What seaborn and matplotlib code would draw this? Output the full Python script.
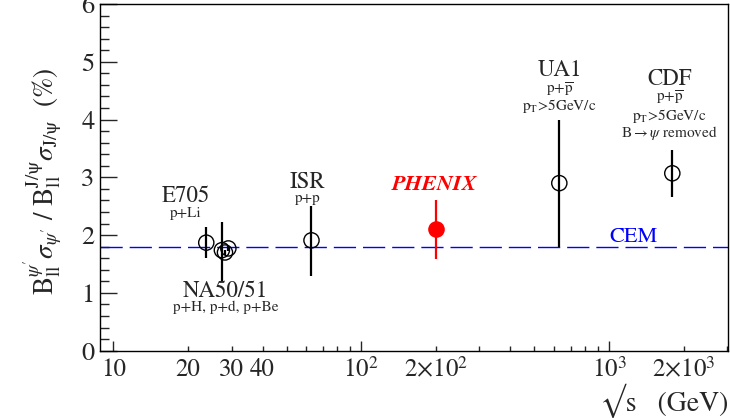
import numpy as np
import pandas as pd
import matplotlib
matplotlib.use("Agg")
import matplotlib.pyplot as plt
import matplotlib.ticker as mticker
import seaborn as sns

# ---------------- data ----------------
experiments = ["E705", "NA50", "NA51a", "NA51b", "ISR", "UA1", "CDF"]
sqrt_s = [23.7, 27.4, 28.2, 29.1, 63.0, 630.0, 1800.0]
ratio = [1.87, 1.74, 1.70, 1.77, 1.91, 2.90, 3.07]
err_lo = [0.26, 0.53, 0.04, 0.04, 0.61, 1.11, 0.41]
err_hi = [0.27, 0.49, 0.04, 0.04, 0.59, 1.10, 0.41]

phenix_sqrt_s = [200.0]
phenix_ratio = [2.10]
phenix_err_lo = [0.51]
phenix_err_hi = [0.50]

cem_value = 1.8

x_tick_values = [10, 20, 30, 40, 100, 200, 1000, 2000]
x_tick_labels = ["10", "20", "30", "40", r"10$^{2}$", r"2$\times$10$^{2}$",
                 r"10$^{3}$", r"2$\times$10$^{3}$"]
y_ticks = [0, 1, 2, 3, 4, 5, 6]

# ---------------- style ----------------
sns.set_style("ticks")
plt.rcParams["font.family"] = ["STIXGeneral", "DejaVu Serif"]
plt.rcParams["mathtext.fontset"] = "stix"

fig = plt.figure(figsize=(7.30, 4.18), dpi=100)
ax = fig.add_axes([100 / 730, 1 - 350.7 / 418, 628 / 730, 346.7 / 418])

df = pd.DataFrame({"exp": experiments, "sqrt_s": sqrt_s, "ratio": ratio})
dfp = pd.DataFrame({"sqrt_s": phenix_sqrt_s, "ratio": phenix_ratio})

# CEM line
ax.axhline(cem_value, color="#0000ff", lw=1.0, dashes=(16, 5), zorder=1)

# error bars
ax.errorbar(sqrt_s, ratio, yerr=[err_lo, err_hi], fmt="none", ecolor="black",
            elinewidth=1.6, capsize=0, zorder=2)
ax.errorbar(phenix_sqrt_s, phenix_ratio, yerr=[phenix_err_lo, phenix_err_hi],
            fmt="none", ecolor="#ff0000", elinewidth=1.6, capsize=0, zorder=2)

# markers
sns.scatterplot(data=df, x="sqrt_s", y="ratio", ax=ax, s=120, marker="o",
                facecolor="none", edgecolor="black", linewidth=1.0, zorder=3,
                legend=False)
sns.scatterplot(data=dfp, x="sqrt_s", y="ratio", ax=ax, s=120, marker="o",
                color="#ff0000", edgecolor="#ff0000", linewidth=1.0, zorder=3,
                legend=False)

ax.set_xscale("log")
ax.set_xlim(8.83, 3020)
ax.set_ylim(0, 6)

# x ticks
ax.xaxis.set_major_locator(mticker.FixedLocator([10, 100, 1000]))
minor = [m * 10 ** d for d in (1, 2, 3) for m in range(2, 10) if m * 10 ** d < 3020]
ax.xaxis.set_minor_locator(mticker.FixedLocator(minor))
lab = dict(zip(x_tick_values, x_tick_labels))
fmt = mticker.FuncFormatter(lambda v, p: lab.get(int(round(v)), ""))
ax.xaxis.set_major_formatter(fmt)
ax.xaxis.set_minor_formatter(fmt)

ax.yaxis.set_major_locator(mticker.FixedLocator(y_ticks))
ax.yaxis.set_minor_locator(mticker.MultipleLocator(0.2))

ax.tick_params(axis="x", which="major", direction="in", length=7, width=1,
               labelsize=18, pad=5, top=False)
ax.tick_params(axis="x", which="minor", direction="in", length=3.6, width=1,
               labelsize=18, pad=5, top=False)
ax.tick_params(axis="y", which="major", direction="in", length=12, width=1,
               labelsize=19, pad=4, right=False)
ax.tick_params(axis="y", which="minor", direction="in", length=6.5, width=1,
               right=False)
for s in ax.spines.values():
    s.set_linewidth(1.0)
    s.set_color("black")
    s.set_visible(True)
ax.set_xlabel("")
ax.set_ylabel("")

# axis titles
fig.text(728 / 730, 1 - 401 / 418, "\u221as   (GeV)", ha="right", va="center",
         fontsize=20)
fig.text(42 / 730, 1 - 181 / 418,
         r"B$_{\rm ll}^{\psi'}$$\sigma_{\psi'}$ / B$_{\rm ll}^{\rm J/\psi}$$\sigma_{\rm J/\psi}$  (%)",
         rotation=90, ha="center", va="center", fontsize=19.5)

# annotations
big = 16.5
small = 11
ax.text(19.6, 2.67, "E705", ha="center", va="center", fontsize=big)
ax.text(19.6, 2.38, "p+Li", ha="center", va="center", fontsize=small)
ax.text(28.4, 1.03, "NA50/51", ha="center", va="center", fontsize=big)
ax.text(28.4, 0.75, "p+H, p+d, p+Be", ha="center", va="center", fontsize=small)
ax.text(60.7, 2.92, "ISR", ha="center", va="center", fontsize=big)
ax.text(60.7, 2.64, "p+p", ha="center", va="center", fontsize=small)
ax.text(197, 2.87, "PHENIX", ha="center", va="center", fontsize=16,
        color="#ff0000", fontweight="bold", fontstyle="italic")
ax.text(631, 4.85, "UA1", ha="center", va="center", fontsize=big)
ax.text(631, 4.52, r"p+$\overline{\rm p}$", ha="center", va="center", fontsize=small)
ax.text(631, 4.23, r"p$_{\rm T}$>5GeV/c", ha="center", va="center", fontsize=small)
ax.text(1755, 4.70, "CDF", ha="center", va="center", fontsize=big)
ax.text(1755, 4.37, r"p+$\overline{\rm p}$", ha="center", va="center", fontsize=small)
ax.text(1755, 4.07, r"p$_{\rm T}$>5GeV/c", ha="center", va="center", fontsize=small)
ax.text(1755, 3.77, r"B$\rightarrow\psi$ removed", ha="center", va="center", fontsize=small)
ax.text(1250, 1.97, "CEM", ha="center", va="center", fontsize=16, color="#0000ff")

fig.savefig("out.png", dpi=100)
